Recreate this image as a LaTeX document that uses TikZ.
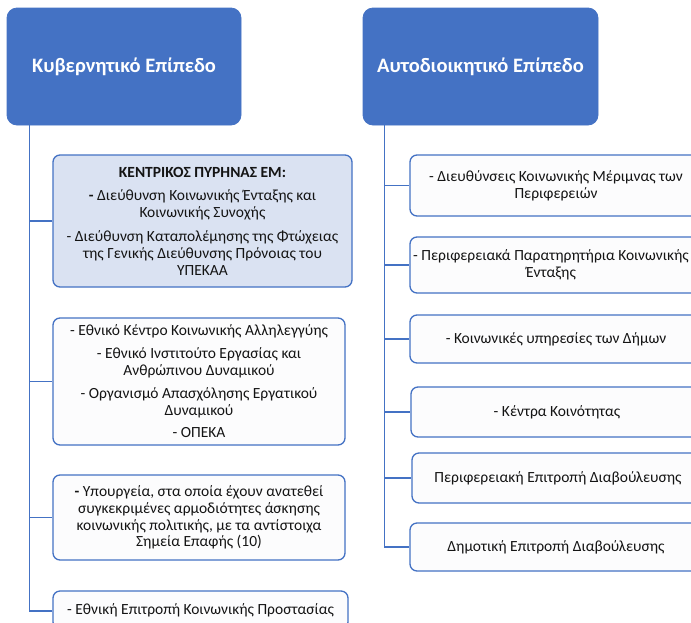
\documentclass[tikz,border=0pt]{standalone}
\usepackage{fontspec}
\setmainfont{Carlito}
\definecolor{hdr}{HTML}{4472C4}
\definecolor{edge}{HTML}{4472C4}
\definecolor{lightfill}{HTML}{DAE2F2}
\definecolor{boxfill}{HTML}{FCFCFD}
\definecolor{txt}{HTML}{141414}
\begin{document}
\begin{tikzpicture}[x=1pt,y=-1pt,
  header/.style={draw=hdr, fill=hdr, rounded corners=10pt, text=white,
    font=\fontsize{20.5}{24}\selectfont\bfseries, inner sep=0pt, line width=0.8pt},
  itembox/.style={draw=edge, fill=boxfill, rounded corners=7pt, line width=1.3pt,
    text=txt, align=center, inner sep=0pt,
    font=\fontsize{15.5}{16.8}\selectfont},
  plaintext/.style={text=txt, align=center, inner sep=0pt,
    font=\fontsize{15.5}{16.8}\selectfont},
  link/.style={draw=edge, line width=1.5pt}]
\useasboundingbox (0,0) rectangle (691,622);
\clip (0,0) rectangle (691,622);
\fill[white] (0,0) rectangle (691,622);

% headers
\node[header, minimum width=234pt, minimum height=117pt] (lh) at (124,66.5) {Κυβερνητικό Επίπεδο};
\node[header, minimum width=235pt, minimum height=117pt] (rh) at (480.5,66.5) {Αυτοδιοικητικό Επίπεδο};

\coordinate (lt) at ([xshift=23pt]lh.south west);
\coordinate (rt) at ([xshift=22pt]rh.south west);

% left boxes
\node[itembox, fill=lightfill, minimum width=299pt, minimum height=132pt] (b1) at (202.5,221)
 {\textbf{ΚΕΝΤΡΙΚΟΣ ΠΥΡΗΝΑΣ ΕΜ:}\\[7pt]
  \textbf{-} Διεύθυνση Κοινωνικής Ένταξης και\\ Κοινωνικής Συνοχής\\[7pt]
  - Διεύθυνση Καταπολέμησης της Φτώχειας\\ της Γενικής Διεύθυνσης Πρόνοιας του\\ ΥΠΕΚΑΑ};
\node[itembox, minimum width=292pt, minimum height=127pt] (b2) at (199,381.5)
 {- Εθνικό Κέντρο Κοινωνικής Αλληλεγγύης\\[6pt]
  - Εθνικό Ινστιτούτο Εργασίας και\\ Ανθρώπινου Δυναμικού\\[6pt]
  - Οργανισμό Απασχόλησης Εργατικού\\ Δυναμικού\\[6pt]
  - ΟΠΕΚΑ};
\node[itembox, minimum width=292pt, minimum height=85pt] (b3) at (199,517.5)
 {\textbf{-} Υπουργεία, στα οποία έχουν ανατεθεί\\ συγκεκριμένες αρμοδιότητες άσκησης\\ κοινωνικής πολιτικής, με τα αντίστοιχα\\ Σημεία Επαφής (10)};
\node[itembox, minimum width=295pt, minimum height=38pt] (b4) at (200.5,610)
 {- Εθνική Επιτροπή Κοινωνικής Προστασίας};

% right boxes
\node[itembox, minimum width=292pt, minimum height=61pt] (r1) at (556,185.5)
 {- Διευθύνσεις Κοινωνικής Μέριμνας των\\ Περιφερειών};
\node[itembox, minimum width=292pt, minimum height=56pt] (r2) at (556,265) {};
\node[plaintext, anchor=west] (r2t) at (413,265)
 {- Περιφερειακά Παρατηρητήρια Κοινωνικής\\ Ένταξης};
\node[itembox, minimum width=292pt, minimum height=48pt] (r3) at (556,339)
 {- Κοινωνικές υπηρεσίες των Δήμων};
\node[itembox, minimum width=292pt, minimum height=50pt] (r4) at (557,412)
 {- Κέντρα Κοινότητας};
\node[itembox, minimum width=292pt, minimum height=50pt] (r5) at (558,478)
 {Περιφερειακή Επιτροπή Διαβούλευσης};
\node[itembox, minimum width=292pt, minimum height=48pt] (r6) at (556,547)
 {Δημοτική Επιτροπή Διαβούλευσης};

% connectors
\foreach \b in {b1,b2,b3}{\draw[link] (lt) |- (\b.west);}
\draw[link] (lt) |- ([yshift=-1pt]b4.west);
\foreach \b in {r1,r2,r3,r4,r5,r6}{\draw[link] (rt) |- (\b.west);}
\end{tikzpicture}
\end{document}
